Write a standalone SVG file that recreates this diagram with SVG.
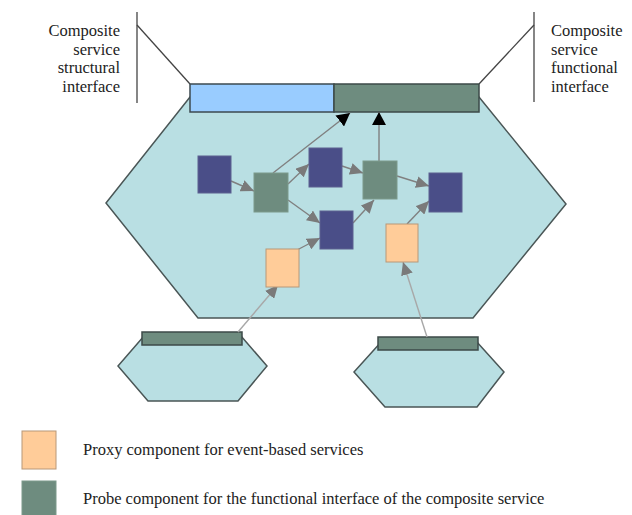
<svg xmlns="http://www.w3.org/2000/svg" width="632" height="515" viewBox="0 0 632 515">
<style>
.hex{fill:#b9dfe3;stroke:#4a5656;stroke-width:1.5}
.blue{fill:#99ccff;stroke:#3c4a50;stroke-width:1.5}
.grn{fill:#6e8c7f;stroke:#3c4a48;stroke-width:1.5}
.box-n{fill:#4a4e88;stroke:#5c6090;stroke-width:1}
.box-g{fill:#6e8c7f;stroke:#7c9a8c;stroke-width:1}
.box-o{fill:#ffcc99;stroke:#b89878;stroke-width:1}
.lbl{fill:#222}
.ln{stroke:#444;stroke-width:1.3;fill:none}
.c{stroke:#808080;stroke-width:1.4;fill:none}
.c2{stroke:#a8a8a8;stroke-width:1.4;fill:none}
</style>
<defs>
<marker id="ag" markerUnits="userSpaceOnUse" markerWidth="14" markerHeight="12" refX="13" refY="6" orient="auto"><path d="M0,0 L13,6 L0,12 z" fill="#7a7a7a"/></marker>
<marker id="ak" markerUnits="userSpaceOnUse" markerWidth="14" markerHeight="14" refX="13" refY="7" orient="auto"><path d="M0,0 L13,7 L0,14 z" fill="#000"/></marker>
</defs>

<g font-family="'Liberation Serif', 'Times New Roman', 'DejaVu Serif', serif" font-size="16.5">
<g id="label-structural">
<line class="ln" x1="137" y1="12" x2="137" y2="103"/>
<line class="ln" x1="137" y1="25" x2="190" y2="84"/>
<text class="lbl" text-anchor="end" x="120" y="36">Composite</text>
<text class="lbl" text-anchor="end" x="120" y="54.5">service</text>
<text class="lbl" text-anchor="end" x="120" y="73">structural</text>
<text class="lbl" text-anchor="end" x="120" y="91.5">interface</text>
</g>
<g id="label-functional">
<line class="ln" x1="534" y1="12" x2="534" y2="102"/>
<line class="ln" x1="534" y1="25" x2="479" y2="84"/>
<text class="lbl" x="551" y="36">Composite</text>
<text class="lbl" x="551" y="54.5">service</text>
<text class="lbl" x="551" y="73">functional</text>
<text class="lbl" x="551" y="91.5">interface</text>
</g>
<g id="legend-proxy">
<rect class="box-o" x="22" y="431" width="34" height="38"/>
<text class="lbl" x="83" y="455">Proxy component for event-based services</text>
</g>
<g id="legend-probe">
<rect class="box-g" x="22" y="481" width="34" height="40"/>
<text class="lbl" x="83" y="504">Probe component for the functional interface of the composite service</text>
</g>
</g>

<g id="composite-service">
<polygon class="hex" points="190,97 479,97 566,204 473,318 198,318 106,203"/>
</g>
<g id="structural-interface"><rect class="blue" x="190" y="84" width="144" height="28"/></g>
<g id="functional-interface"><rect class="grn" x="334" y="84" width="145" height="28"/></g>

<g id="service-1">
<polygon class="hex" points="144,336 241,336 267,366 238,401 148,401 118,366"/>
<rect class="grn" x="142" y="332" width="100" height="13"/>
</g>
<g id="service-2">
<polygon class="hex" points="382,341 476,341 504,372 477,407 385,407 354,372"/>
<rect class="grn" x="378" y="337" width="100" height="13"/>
</g>

<g id="connectors">
<line class="c" x1="231" y1="181" x2="254" y2="191" marker-end="url(#ag)"/>
<line class="c" x1="288" y1="184" x2="309" y2="164" marker-end="url(#ag)"/>
<line class="c" x1="342" y1="166" x2="363" y2="173" marker-end="url(#ag)"/>
<line class="c" x1="397" y1="176" x2="429" y2="186" marker-end="url(#ag)"/>
<line class="c" x1="288" y1="200" x2="320" y2="223" marker-end="url(#ag)"/>
<line class="c" x1="353" y1="223" x2="374" y2="200" marker-end="url(#ag)"/>
<line class="c" x1="297" y1="250" x2="320" y2="238" marker-end="url(#ag)"/>
<line class="c" x1="407" y1="224" x2="429" y2="201" marker-end="url(#ag)"/>
<line class="c" x1="273" y1="173" x2="350" y2="113" marker-end="url(#ak)"/>
<line class="c" x1="379" y1="161" x2="379" y2="112" marker-end="url(#ak)"/>
<line class="c2" x1="238" y1="332" x2="278" y2="285" marker-end="url(#ag)"/>
<line class="c2" x1="427" y1="337" x2="403" y2="262" marker-end="url(#ag)"/>
</g>

<g id="n1"><rect class="box-n" x="198" y="156" width="33" height="37"/></g>
<g id="g1"><rect class="box-g" x="254" y="173" width="34" height="39"/></g>
<g id="n2"><rect class="box-n" x="309" y="148" width="33" height="39"/></g>
<g id="g2"><rect class="box-g" x="363" y="161" width="34" height="38"/></g>
<g id="n3"><rect class="box-n" x="429" y="173" width="33" height="39"/></g>
<g id="n4"><rect class="box-n" x="320" y="211" width="33" height="38"/></g>
<g id="o1"><rect class="box-o" x="266" y="249" width="33" height="38"/></g>
<g id="o2"><rect class="box-o" x="386" y="224" width="32" height="38"/></g>
</svg>
